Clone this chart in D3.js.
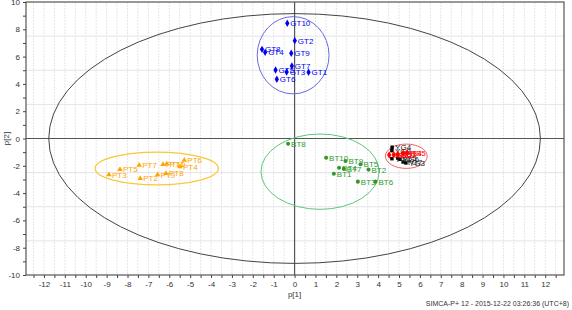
<!DOCTYPE html>
<html>
<head>
<meta charset="utf-8">
<script src="https://cdn.jsdelivr.net/npm/d3@7"></script>
<style>
  body { margin: 0; background: #fff; }
  text { font-family: "Liberation Sans", Arial, sans-serif; }
</style>
</head>
<body>
<div id="plot"></div>
<script>
// score values t[1], t[2] per group
var gtNames = ["GT1","GT2","GT3","GT4","GT5","GT6","GT7","GT8","GT9","GT10"]
var gtX = [0.67, 0.01, -0.38, -1.41, -0.91, -0.85, -0.13, -1.56, -0.16, -0.35]
var gtY = [4.85, 7.17, 4.87, 6.31, 5.02, 4.34, 5.31, 6.53, 6.24, 8.44]

var btNames = ["BT1","BT2","BT3","BT4","BT5","BT6","BT7","BT8","BT9","BT10"]
var btX = [1.88, 3.54, 3.03, 2.13, 3.16, 3.87, 2.36, -0.31, 2.44, 1.51]
var btY = [-2.58, -2.28, -3.16, -2.14, -1.89, -3.16, -2.21, -0.38, -1.65, -1.41]

var ptNames = ["PT1","PT2","PT3","PT4","PT5","PT6","PT7","PT8","PT9","PT10"]
var ptX = [-6.12, -7.39, -8.89, -5.49, -8.36, -5.28, -7.44, -6.16, -6.56, -6.30]
var ptY = [-1.86, -2.92, -2.65, -2.06, -2.26, -1.58, -1.96, -2.55, -2.65, -1.89]

var rsNames = ["RS1","RS2","RS3","RS4","RS5"]
var rsX = [4.53, 4.75, 4.94, 5.20, 5.39]
var rsY = [-1.21, -1.19, -1.16, -1.08, -1.04]

var ygNames = ["YG1","YG2","YG3","YG4","YG5","YG6","YG7"]
var ygX = [4.66, 4.66, 5.33, 4.67, 4.94, 5.04, 5.20]
var ygY = [-1.48, -0.89, -1.79, -0.64, -1.43, -1.52, -1.72]

// confidence ellipses: cx, cy, rx, ry
var hotelling = [0, 0, 11.77, 9.15]
var gtEll = [-0.07, 6.1, 1.72, 2.83]
var btEll = [1.22, -2.43, 2.83, 2.76]
var ptEll = [-6.6, -2.2, 2.95, 1.2]
var rsEll = [5.35, -1.3, 1.0, 0.89]

var xTicks = d3.range(-12, 13, 1)
var yTicks = d3.range(-10, 11, 2)

var W = 572, H = 310
var svg = d3.select("#plot").append("svg").attr("width", W).attr("height", H)

var x = d3.scaleLinear().domain([-12.86, 12.9]).range([26, 564])
var y = d3.scaleLinear().domain([-10, 10]).range([275, 2])

// grid
svg.append("g").selectAll("line").data(d3.range(-12.5, 13, 0.5)).enter().append("line")
  .attr("x1", d => x(d)).attr("x2", d => x(d)).attr("y1", y(10)).attr("y2", y(-10))
  .attr("stroke", "#e6e6e6").attr("stroke-width", 1).attr("stroke-dasharray", "2,1")
svg.append("g").selectAll("line").data([-7.5, -5, -2.5, 2.5, 5, 7.5]).enter().append("line")
  .attr("x1", x(-12.86)).attr("x2", x(12.9)).attr("y1", d => y(d)).attr("y2", d => y(d))
  .attr("stroke", "#e4e4e4").attr("stroke-width", 1)

// zero lines
svg.append("line").attr("x1", x(0)).attr("x2", x(0)).attr("y1", y(10)).attr("y2", y(-10))
  .attr("stroke", "#555").attr("stroke-width", 1.2)
svg.append("line").attr("x1", x(-12.86)).attr("x2", x(12.9)).attr("y1", y(0)).attr("y2", y(0))
  .attr("stroke", "#555").attr("stroke-width", 1.2)

// frame
svg.append("rect").attr("x", x(-12.86)).attr("y", y(10))
  .attr("width", x(12.9) - x(-12.86)).attr("height", y(-10) - y(10))
  .attr("fill", "none").attr("stroke", "#555").attr("stroke-width", 1.2)

// ellipses
function ellipse(e, col, w) {
  svg.append("ellipse")
    .attr("cx", x(e[0])).attr("cy", y(e[1]))
    .attr("rx", x(e[0] + e[2]) - x(e[0])).attr("ry", y(e[1]) - y(e[1] + e[3]))
    .attr("fill", "none").attr("stroke", col).attr("stroke-width", w)
}
ellipse(hotelling, "#444", 1)
ellipse(gtEll, "#6a6ae0", 1)
ellipse(btEll, "#5cc77a", 1)
ellipse(ptEll, "#f8c838", 1.2)
ellipse(rsEll, "#f06060", 1)

// axes
var xAxis = d3.axisBottom(x).tickValues(d3.range(-12.5, 13, 0.5)).tickSize(3)
  .tickFormat(d => Number.isInteger(d) ? d : "")
var gx = svg.append("g").attr("transform", "translate(0," + y(-10) + ")").call(xAxis)
var yAxis = d3.axisLeft(y).tickValues(d3.range(-10, 11, 1)).tickSize(3)
  .tickFormat(d => yTicks.indexOf(d) >= 0 ? d : "")
var gy = svg.append("g").attr("transform", "translate(" + x(-12.86) + ",0)").call(yAxis)
;[gx, gy].forEach(function(g) {
  g.select(".domain").remove()
  g.selectAll("line").attr("stroke", "#444")
  g.selectAll("text").attr("fill", "#333").style("font-size", "8px")
})
gx.selectAll("text").attr("dy", "0.8em")

svg.append("text").attr("x", x(0)).attr("y", 297).attr("text-anchor", "middle")
  .style("font-size", "8px").attr("fill", "#333").text("p[1]")
svg.append("text").attr("transform", "translate(9," + y(0) + ") rotate(-90)")
  .attr("text-anchor", "middle").style("font-size", "8px").attr("fill", "#333").text("p[2]")
svg.append("text").attr("x", 569).attr("y", 306).attr("text-anchor", "end")
  .style("font-size", "7px").attr("fill", "#333").text("SIMCA-P+ 12 - 2015-12-22 03:26:36 (UTC+8)")

// points
function group(names, xs, ys, sym, size, col, labCol) {
  var data = names.map((n, i) => ({ n: n, x: xs[i], y: ys[i] }))
  var g = svg.append("g")
  g.selectAll("path").data(data).enter().append("path")
    .attr("d", d3.symbol().type(sym).size(size))
    .attr("transform", d => "translate(" + x(d.x) + "," + y(d.y) + ")")
    .attr("fill", col)
  g.selectAll("text").data(data).enter().append("text")
    .attr("x", d => x(d.x) + 3).attr("y", d => y(d.y) + 3)
    .style("font-size", "8px").attr("fill", labCol).text(d => d.n)
}
group(gtNames, gtX, gtY, d3.symbolDiamond, 16, "#0000ee", "#0000ee")
group(btNames, btX, btY, d3.symbolCircle, 13, "#2e9a2e", "#2e9a2e")
group(ptNames, ptX, ptY, d3.symbolTriangle, 13, "#ffa500", "#ffa500")
group(ygNames, ygX, ygY, d3.symbolSquare, 12, "#000", "#222")
group(rsNames, rsX, rsY, d3.symbolDiamond, 16, "#ff0000", "#ff0000")
</script>
</body>
</html>
